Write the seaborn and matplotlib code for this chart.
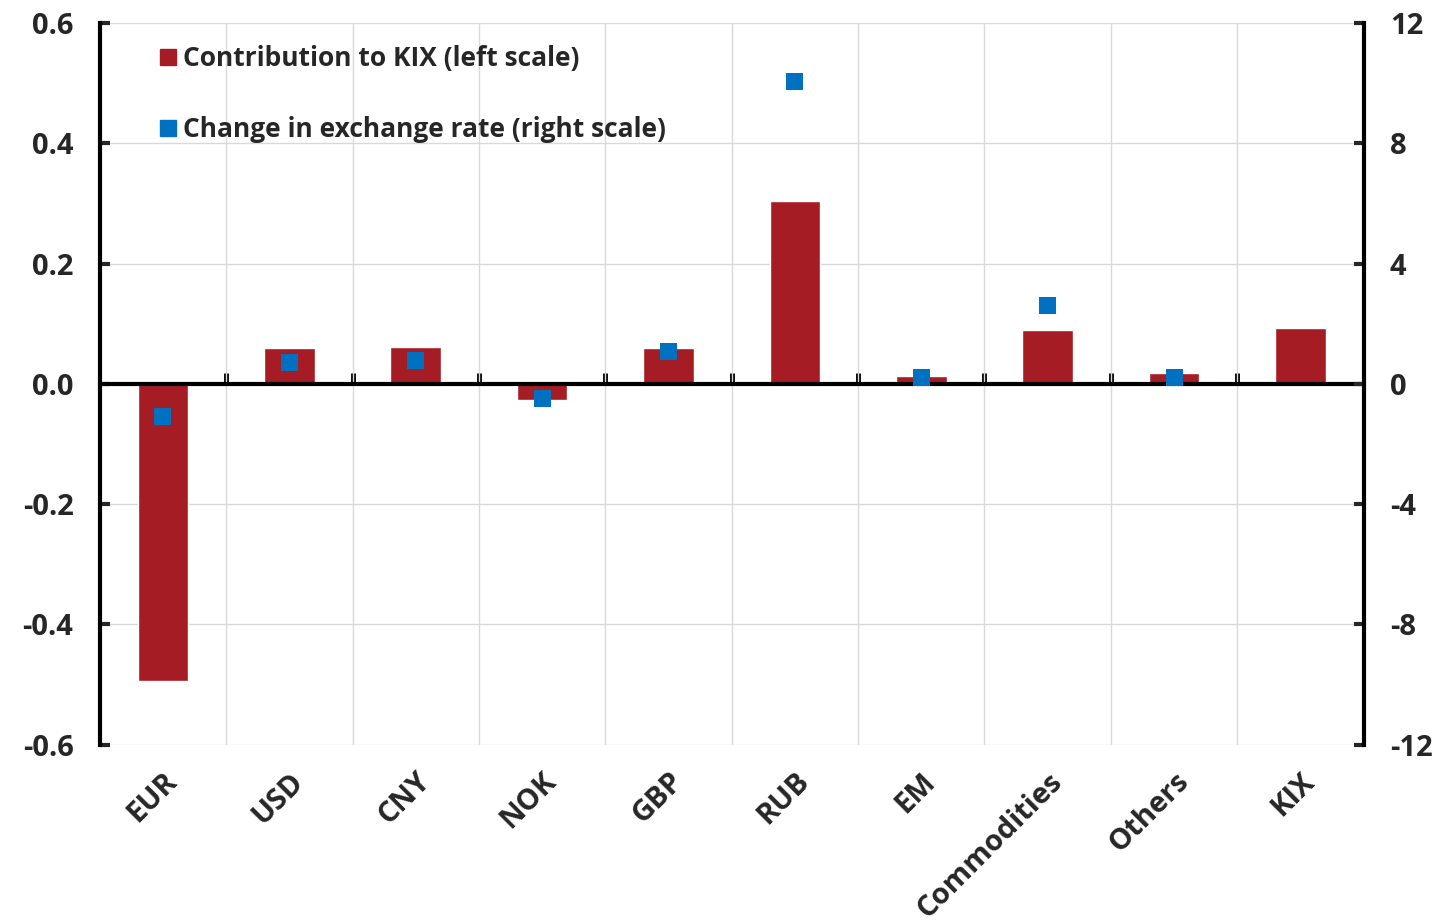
import numpy as np
import pandas as pd
import matplotlib
matplotlib.use("Agg")
import matplotlib.pyplot as plt
import seaborn as sns
from matplotlib.lines import Line2D

# =====================================================
# Data
# =====================================================

categories = ["EUR", "USD", "CNY", "NOK", "GBP", "RUB", "EM",
              "Commodities", "Others", "KIX"]

contribution = [-0.494, 0.059, 0.062, -0.026, 0.059, 0.305, 0.013,
                0.090, 0.018, 0.093]

fx_change = [-1.07, 0.70, 0.79, -0.50, 1.08, 10.05, 0.20,
             2.60, 0.20, np.nan]

left_ticks = [-0.6, -0.4, -0.2, 0.0, 0.2, 0.4, 0.6]
right_ticks = [-12, -8, -4, 0, 4, 8, 12]

bar_color = "#A51C24"
dot_color = "#0070C0"

df = pd.DataFrame({
    "category": categories,
    "pos": np.arange(len(categories)),
    "contribution": contribution,
    "fx_change": fx_change,
})

# =====================================================
# Style
# =====================================================

sns.set_style("white")
plt.rcParams["font.family"] = ["Open Sans", "DejaVu Sans"]
plt.rcParams["font.weight"] = "bold"
plt.rcParams["axes.unicode_minus"] = False

fig, ax = plt.subplots(figsize=(14.46, 9.24), dpi=100)
fig.subplots_adjust(left=0.069, right=0.943, top=0.975, bottom=0.194)

# =====================================================
# Bars (left scale)
# =====================================================

sns.barplot(
    data=df, x="pos", y="contribution", order=list(df["pos"]),
    color=bar_color, width=0.4, saturation=1, ax=ax, zorder=3,
    native_scale=True,
)

ax.set_xlim(-0.5, len(categories) - 0.5)
ax.set_ylim(-0.6, 0.6)
ax.set_yticks(left_ticks)
ax.set_yticklabels([f"{t:.1f}" for t in left_ticks])
ax.set_xticks(np.arange(len(categories)))
ax.set_xticklabels(categories, rotation=45, ha="right",
                   rotation_mode="anchor")
ax.set_xticks(np.arange(len(categories) - 1) + 0.5, minor=True)
ax.set_xlabel("")
ax.set_ylabel("")

ax.grid(axis="y", which="major", color="#D9D9D9", lw=1, zorder=0)
ax.grid(axis="x", which="minor", color="#D9D9D9", lw=1, zorder=0)
ax.grid(axis="x", which="major", visible=False)

ax.tick_params(axis="x", which="both", length=0, labelsize=21, pad=16)
ax.tick_params(axis="y", direction="in", length=7, width=3,
               labelsize=21, pad=19)

for s in ["top", "bottom"]:
    ax.spines[s].set_visible(False)
ax.spines["left"].set_linewidth(3)
ax.spines["left"].set_color("black")

# zero line with small upward ticks at category boundaries
ax.axhline(0, color="black", lw=3, zorder=5)
zero = ax.secondary_xaxis(0.5)
zero.set_xticks(np.arange(len(categories) - 1) + 0.5)
zero.set_xticklabels([])
zero.tick_params(direction="out", length=8, width=3.5, color="black")
zero.spines["bottom"].set_visible(False)

# =====================================================
# Points (right scale)
# =====================================================

ax2 = ax.twinx()
sns.scatterplot(
    data=df, x="pos", y="fx_change", marker="s", s=150,
    color=dot_color, edgecolor="none", ax=ax2, zorder=4,
)
ax2.set_ylim(-12, 12)
ax2.set_yticks(right_ticks)
ax2.set_ylabel("")
ax2.tick_params(axis="y", direction="in", length=7, width=3,
                labelsize=21, pad=19)
for s in ["top", "bottom", "left"]:
    ax2.spines[s].set_visible(False)
ax2.spines["right"].set_linewidth(3)
ax2.spines["right"].set_color("black")

# =====================================================
# Legend
# =====================================================

handles = [
    Line2D([], [], marker="s", ls="none", color=bar_color, markersize=11),
    Line2D([], [], marker="s", ls="none", color=dot_color, markersize=11),
]
ax2.legend(
    handles,
    ["Contribution to KIX (left scale)",
     "Change in exchange rate (right scale)"],
    loc="upper left", bbox_to_anchor=(0.029, 1.002), frameon=False,
    fontsize=19, handlelength=0.6, handletextpad=0.25,
    labelspacing=1.65, borderaxespad=0.5,
)

plt.savefig("out.png", dpi=100)
